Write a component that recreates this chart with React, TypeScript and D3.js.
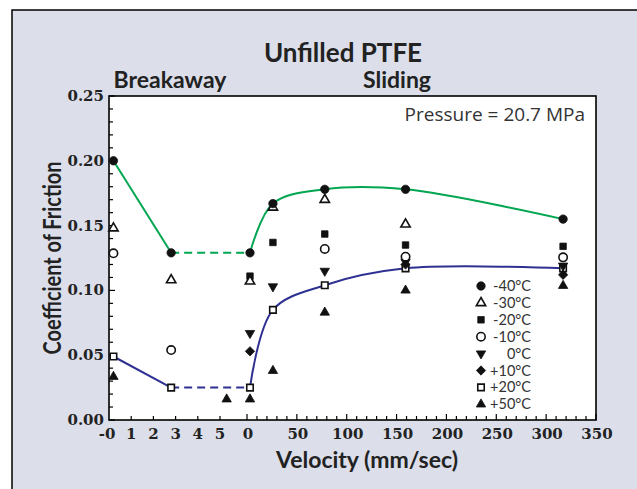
import React, { useEffect, useRef } from "react";
import * as d3 from "d3";

// series (temperatures) and how each is marked
const temps = ["-40°C", "-30°C", "-20°C", "-10°C", "0°C", "+10°C", "+20°C", "+50°C"];
const shapes = ["circle", "triangle", "square", "circle", "triangleDown", "diamond", "square", "triangle"];
const filled = [true, false, true, false, true, true, false, true];

// breakaway section (time-like axis 0..5)
const breakawayX = [0.2, 2.8, 5.3];
const breakaway: (number | null)[][] = [
  [0.2, 0.129, null],
  [0.148, 0.108, null],
  [null, null, null],
  [0.1286, 0.054, null],
  [null, null, null],
  [null, null, null],
  [0.049, 0.025, null],
  [0.0334, null, 0.016],
];

// sliding section (velocity, mm/sec)
const velocity = [3, 26, 78, 159, 317];
const sliding: (number | null)[][] = [
  [0.129, 0.167, 0.178, 0.178, 0.155],
  [0.107, 0.164, 0.17, 0.151, null],
  [0.111, 0.137, 0.1435, 0.135, 0.134],
  [null, null, 0.132, 0.126, 0.1255],
  [0.067, 0.103, 0.115, 0.122, 0.119],
  [0.053, null, null, 0.12, 0.112],
  [0.025, 0.085, 0.104, 0.117, 0.117],
  [0.016, 0.038, 0.083, 0.1, 0.1036],
];

const breakawayTicks = [0, 1, 2, 3, 4, 5];
const breakawayLabels = ["-0", "1", "2", "3", "4", "5"];
const velocityTicks = [0, 50, 100, 150, 200, 250, 300, 350];
const yTicks = [0, 0.05, 0.1, 0.15, 0.2, 0.25];

// fitted curves drawn through these series
const curveSeries = [0, 6];
const curveColors = ["#00a651", "#2e3192"];

export default function App() {
  const svgRef = useRef<SVGSVGElement>(null);

  useEffect(() => {
    if (!svgRef.current) return;
    const width = 637;
    const height = 489;
    const left = 109;
    const right = 596;
    const top = 96;
    const bottom = 420;

    const svg = d3.select(svgRef.current);
    svg.selectAll("*").remove();
    svg.attr("width", width).attr("height", height);

    const sans = "Lato, 'Open Sans', sans-serif";
    const serif = "'DejaVu Serif', serif";

    // panel background
    svg.append("rect")
      .attr("x", 12).attr("y", 10)
      .attr("width", width).attr("height", height)
      .attr("fill", "#dcdfea")
      .attr("stroke", "#000")
      .attr("stroke-width", 1.5);

    const y = d3.scaleLinear().domain([0, 0.25]).range([bottom, top]);
    const xb = d3.scaleLinear().domain([0, 5]).range([left, 220]);
    const xs = d3.scaleLinear().domain([0, 350]).range([247, right]);

    // plot box
    svg.append("rect")
      .attr("x", left).attr("y", top)
      .attr("width", right - left).attr("height", bottom - top)
      .attr("fill", "#fff")
      .attr("stroke", "#000")
      .attr("stroke-width", 1.6);

    const ticks = svg.append("g").attr("stroke", "#000").attr("stroke-width", 1.2);
    // y ticks, pointing in
    d3.range(0, 26).forEach(i => {
      const major = i % 5 === 0;
      ticks.append("line")
        .attr("x1", left).attr("x2", left + (major ? 6 : 4))
        .attr("y1", y(i / 100)).attr("y2", y(i / 100));
    });
    // breakaway x ticks
    breakawayTicks.slice(1).forEach(t => {
      ticks.append("line")
        .attr("x1", xb(t)).attr("x2", xb(t))
        .attr("y1", bottom).attr("y2", bottom - 4);
    });
    // velocity x ticks
    d3.range(0, 351, 10).forEach(v => {
      const major = v % 50 === 0;
      ticks.append("line")
        .attr("x1", xs(v)).attr("x2", xs(v))
        .attr("y1", bottom).attr("y2", bottom - (major ? 6 : 4));
    });

    // tick labels
    const labels = svg.append("g")
      .attr("font-family", serif)
      .attr("font-weight", "bold")
      .attr("font-size", 15)
      .attr("fill", "#222");
    yTicks.forEach(t => {
      labels.append("text")
        .attr("x", left - 5).attr("y", y(t) + 5)
        .attr("text-anchor", "end")
        .text(t.toFixed(2));
    });
    breakawayTicks.forEach((t, i) => {
      labels.append("text")
        .attr("x", xb(t) + (i === 0 ? -2 : 0)).attr("y", 439)
        .attr("text-anchor", "middle")
        .text(breakawayLabels[i]);
    });
    velocityTicks.forEach(v => {
      labels.append("text")
        .attr("x", xs(v) + 1).attr("y", 439)
        .attr("text-anchor", "middle")
        .text(String(v));
    });

    // curves
    curveSeries.forEach((s, k) => {
      const b = breakaway[s];
      const g = svg.append("g")
        .attr("fill", "none")
        .attr("stroke", curveColors[k])
        .attr("stroke-width", 2);
      g.append("line")
        .attr("x1", xb(breakawayX[0])).attr("y1", y(b[0] as number))
        .attr("x2", xb(breakawayX[1])).attr("y2", y(b[1] as number));
      g.append("line")
        .attr("x1", xb(breakawayX[1])).attr("y1", y(b[1] as number))
        .attr("x2", xs(velocity[0])).attr("y2", y(sliding[s][0] as number))
        .attr("stroke-dasharray", "8,5");
      const pts = velocity.map((v, i) => [v, sliding[s][i] as number] as [number, number]);
      g.append("path")
        .attr("d", d3.line().x(d => xs(d[0])).y(d => y(d[1])).curve(d3.curveCatmullRom.alpha(0.5))(pts));
    });

    const symbolFor = (shape: string) => {
      if (shape === "circle") return d3.symbol().type(d3.symbolCircle).size(55)();
      if (shape === "square") return d3.symbol().type(d3.symbolSquare).size(42)();
      if (shape === "diamond") return d3.symbol().type(d3.symbolDiamond2).size(55)();
      return d3.symbol().type(d3.symbolTriangle).size(38)();
    };
    const drawMarker = (g: d3.Selection<SVGGElement, unknown, null, undefined>, s: number, cx: number, cy: number) => {
      const open = !filled[s];
      g.append("path")
        .attr("d", symbolFor(shapes[s]))
        .attr("transform", `translate(${cx},${cy})${shapes[s] === "triangleDown" ? " rotate(180)" : ""}`)
        .attr("fill", open ? "#fff" : "#111")
        .attr("stroke", "#111")
        .attr("stroke-width", open ? 1.6 : 0.8);
    };

    const marks = svg.append("g");
    // draw back to front so -40 sits on top
    for (let s = temps.length - 1; s >= 0; s--) {
      breakaway[s].forEach((v, i) => {
        if (v != null) drawMarker(marks, s, xb(breakawayX[i]), y(v));
      });
      sliding[s].forEach((v, i) => {
        if (v != null) drawMarker(marks, s, xs(velocity[i]), y(v));
      });
    }

    // legend
    const legend = svg.append("g");
    temps.forEach((t, i) => {
      const ly = 286 + i * 16.9;
      drawMarker(legend, i, 481, ly);
      legend.append("text")
        .attr("x", 531).attr("y", ly + 5)
        .attr("text-anchor", "end")
        .attr("font-family", sans)
        .attr("font-size", 14.5)
        .attr("fill", "#333")
        .text(t);
    });

    // titles
    svg.append("text")
      .attr("x", 343).attr("y", 62)
      .attr("text-anchor", "middle")
      .attr("font-family", sans).attr("font-weight", "bold").attr("font-size", 26)
      .attr("fill", "#222")
      .text("Unfilled PTFE");
    svg.append("text")
      .attr("x", 170).attr("y", 88)
      .attr("text-anchor", "middle")
      .attr("font-family", sans).attr("font-weight", "bold").attr("font-size", 23)
      .attr("fill", "#222")
      .text("Breakaway");
    svg.append("text")
      .attr("x", 397).attr("y", 88)
      .attr("text-anchor", "middle")
      .attr("font-family", sans).attr("font-weight", "bold").attr("font-size", 23)
      .attr("fill", "#222")
      .text("Sliding");
    svg.append("text")
      .attr("x", 585).attr("y", 121)
      .attr("text-anchor", "end")
      .attr("font-family", "'Open Sans', sans-serif").attr("font-size", 19)
      .attr("fill", "#333")
      .text("Pressure = 20.7 MPa");
    svg.append("text")
      .attr("x", 367).attr("y", 468)
      .attr("text-anchor", "middle")
      .attr("font-family", sans).attr("font-weight", "bold").attr("font-size", 23)
      .attr("fill", "#222")
      .text("Velocity (mm/sec)");
    svg.append("text")
      .attr("transform", "translate(61,258) rotate(-90) scale(0.83,1)")
      .attr("text-anchor", "middle")
      .attr("font-family", sans).attr("font-weight", "bold").attr("font-size", 24)
      .attr("fill", "#222")
      .text("Coefficient of Friction");
  }, []);

  return (
    <div style={{ position: "absolute", left: 0, top: 0 }}>
      <svg ref={svgRef} style={{ display: "block" }}></svg>
    </div>
  );
}
